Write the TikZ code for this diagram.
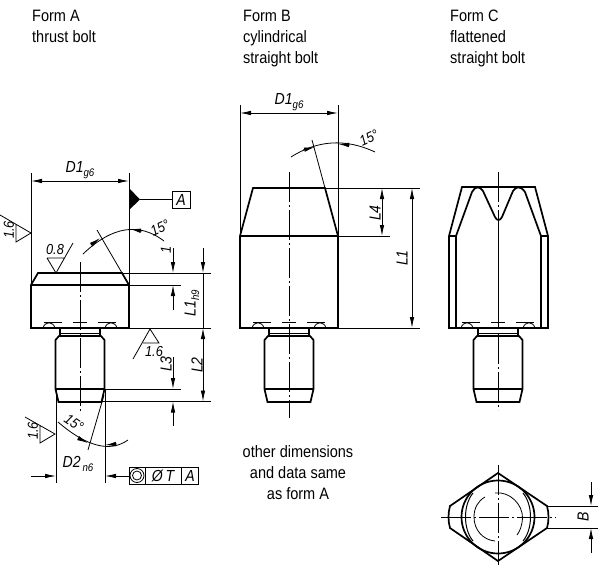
\documentclass[tikz,border=0pt]{standalone}
\usepackage{fontspec}
\setmainfont{Liberation Sans}[FakeStretch=0.88]
\usetikzlibrary{arrows.meta}
\newcommand{\subtxt}[1]{\raisebox{-3.5pt}{\fontsize{11}{11}\selectfont #1}}
\tikzset{
    x=1pt,
    y=-1pt,
    every node/.style={
        inner sep=0pt,
    },
    heading/.style={        % form titles and the note
        font=\fontsize{16.5}{21}\selectfont,
        align=left,
        anchor=north west
    },
    dimlabel/.style={       % dimension texts
        font=\itshape\fontsize{16}{16}\selectfont
    },
    smalllabel/.style={     % roughness and angle texts
        font=\itshape\fontsize{14.5}{14.5}\selectfont
    },
    outline/.style={
        line width=1.7pt,
        line join=miter
    },
    thinline/.style={
        line width=0.8pt
    },
    centerline/.style={
        line width=0.8pt,
        dash pattern=on 30pt off 3pt on 2pt off 3pt
    },
    dimline/.style={
        line width=0.8pt,
        {Latex[length=11pt,width=4.5pt]}-{Latex[length=11pt,width=4.5pt]}
    },
    dimend/.style={         % dimension line with one tip only
        line width=0.8pt,
        -{Latex[length=11pt,width=4.5pt]}
    }
}
\begin{document}
\begin{tikzpicture}
    \useasboundingbox (0,0) rectangle (600,570);
    % titles
    \node[heading] (formA) at (32,9.5) {Form A\\thrust bolt};
    \node[heading] (formB) at (243,9.5) {Form B\\cylindrical\\straight bolt};
    \node[heading] (formC) at (450,9.5) {Form C\\flattened\\straight bolt};
    \node[heading, align=center, anchor=north] (note) at (298,445.5) {other dimensions\\and data same\\as form A};
    % bolt and recesses are the same on all three forms
    \foreach \cx in {80,289,498} {
        \begin{scope}[xshift=\cx pt]
            \draw[outline] (-20,328) -- (-20,336) (20,328) -- (20,336);
            \draw[thinline] (-20,333) -- (20,333);
            \draw[outline] (-24.5,340) -- (-21,336) -- (21,336) -- (24.5,340) -- (24.5,389) -- (21.5,402) -- (-21.5,402) -- (-24.5,389) -- cycle;
            \draw[outline] (-24.5,389) -- (24.5,389);
            \draw[thinline] (-37,328) .. controls (-35,321) and (-27,321) .. (-25,328);
            \draw[thinline] (37,328) .. controls (35,321) and (27,321) .. (25,328);
            \draw[thinline] (-36,322) -- (-18,322) (-7,322) -- (7,322) (18,322) -- (36,322);
        \end{scope}
    }
    % form A
    \draw[outline] (31,328) -- (31,285) -- (38,273) -- (122,273) -- (129,285) -- (129,328) -- cycle;
    \draw[outline] (31,285) -- (129,285);
    \draw[centerline] (80,262) -- (80,413);
    \draw[thinline] (31,173) -- (31,285) (129,173) -- (129,285);
    \draw[dimline] (31,181) -- (129,181);
    \node[dimlabel] (d1a) at (80,170) {D1\subtxt{g6}};
    \fill (129,188) -- (140,199.5) -- (129,210) -- cycle;
    \draw[thinline] (140,199.5) -- (172,199.5);
    \node[draw, thinline, dimlabel, minimum width=18pt, minimum height=17pt] (datumA) at (181,199.5) {A};
    % roughness marks
    \draw[thinline] (0,215) -- (31,233) -- (16,242) -- (16,224);
    \node[smalllabel, rotate=90] (r16a) at (9,230) {1.6};
    \draw[thinline] (47,258) -- (56,273) -- (73,243) (47,258) -- (65,258);
    \node[smalllabel] (r08) at (55,250) {0.8};
    \draw[thinline] (133,359) -- (150,329) -- (159,343) -- (143,343);
    \node[smalllabel] (r16b) at (154,352) {1.6};
    \draw[thinline] (25,417) -- (55,434) -- (40,443) -- (40,425);
    \node[smalllabel, rotate=90] (r16c) at (33,431) {1.6};
    % angle top
    \draw[thinline] (97,230) -- (129,285);
    \draw[thinline] (83,254) .. controls (112,226.3) and (139,222) .. (164,241);
    \draw[dimend] (91,245) -- (100,238);
    \draw[dimend] (142,231) -- (130,229);
    \node[smalllabel, rotate=25] (ang1) at (160,228) {15°};
    % heights
    \draw[thinline] (122,273) -- (211,273) (129,285) -- (181,285) (129,328) -- (211,328);
    \draw[thinline] (105,389) -- (181,389) (102,401.5) -- (211,401.5);
    \draw[dimend] (173,248) -- (173,273);
    \draw[dimend] (173,310) -- (173,285);
    \node[smalllabel, rotate=90] (h1) at (166,250) {1};
    \draw[dimend] (203,248) -- (203,273);
    \draw[thinline] (203,273) -- (203,328);
    \draw[dimline] (203,328) -- (203,401.5);
    \node[dimlabel, rotate=90] (l1a) at (192,303) {L1\subtxt{h9}};
    \node[dimlabel, rotate=90] (l2) at (197,365) {L2};
    \draw[dimend] (173,357) -- (173,389);
    \draw[dimend] (173,426) -- (173,401.5);
    \node[dimlabel, rotate=90] (l3) at (166,364) {L3};
    % angle bottom
    \draw[thinline] (104,395) -- (88,450);
    \draw[thinline] (58,422) .. controls (86.7,446.7) and (110,452.7) .. (128,440);
    \draw[dimend] (78,438) -- (88,443);
    \draw[dimend] (117,444) -- (105,445);
    \node[smalllabel, rotate=-35] (ang2) at (74,423) {15°};
    % D2 and tolerance frame
    \draw[thinline] (56,389) -- (56,483) (105,389) -- (105,483);
    \draw[dimend] (31,476) -- (56,476);
    \draw[dimend] (129,476) -- (105,476);
    \node[dimlabel] (d2) at (78,464) {D2\subtxt{\,n6}};
    \draw[thinline] (129,467) rectangle (198,484) (145,467) -- (145,484) (181,467) -- (181,484);
    \draw[thinline] (137,475.5) circle (7) (137,475.5) circle (4.5);
    \node[dimlabel] (tol) at (163,475.5) {Ø\,T};
    \node[dimlabel] (datumT) at (190,475.5) {A};
    % form B
    \draw[outline] (240,328) -- (240,236) -- (253,188) -- (325,188) -- (338,236) -- (338,328) -- cycle;
    \draw[outline] (240,236) -- (338,236);
    \draw[centerline] (289,172) -- (289,418);
    \draw[thinline] (240,105) -- (240,236) (338,105) -- (338,236);
    \draw[dimline] (240,113) -- (338,113);
    \node[dimlabel] (d1b) at (289,102) {D1\subtxt{g6}};
    \draw[thinline] (312,140) -- (325,188);
    \draw[thinline] (291,157) .. controls (317.7,140) and (345.7,138.3) .. (375,152);
    \draw[dimend] (303,150) -- (315,147);
    \draw[dimend] (350,145) -- (338,144);
    \node[smalllabel, rotate=25] (ang3) at (369,138) {15°};
    \draw[thinline] (325,188) -- (420,188) (338,236) -- (390,236) (338,328) -- (420,328);
    \draw[dimline] (382,188) -- (382,236);
    \draw[dimline] (412,188) -- (412,328);
    \node[dimlabel, rotate=90] (l4) at (375,213) {L4};
    \node[dimlabel, rotate=90] (l1b) at (402,258) {L1};
    % form C
    \draw[outline] (449,328) -- (449,236) -- (462,187) -- (535,187) -- (548,236) -- (548,328) -- cycle;
    \draw[outline] (449,236) -- (456,236) -- (456,328) (548,236) -- (541,236) -- (541,328);
    \draw[outline] (456,236) -- (472,192) .. controls (475,186) and (480,186) .. (483,191) -- (495,217) .. controls (497,221) and (500,221) .. (502,217) -- (513,191) .. controls (516,186) and (521,186) .. (525,192) -- (541,236);
    \draw[thinline, line width=1pt] (498.5,220) -- (498.5,328);
    \draw[centerline] (498,172) -- (498,220);
    \draw[centerline] (498,334) -- (498,410);
    % flattened end view
    \draw[outline] (498,473) -- (547,506) .. controls (549,513) and (549,521) .. (547,528) -- (498,561) -- (450,528) .. controls (448,521) and (448,513) .. (450,506) -- cycle;
    \draw[outline] (498,517) circle (36.5);
    \draw[thinline, line width=1pt] (473,493) .. controls (463,505) and (463,529) .. (473,541);
    \draw[thinline, line width=1pt] (523,493) .. controls (533,505) and (533,529) .. (523,541);
    \draw[thinline] (495,493) .. controls (510,491) and (523,505) .. (522.5,518) .. controls (522,526) and (520,531) .. (517,535);
    \draw[thinline] (495,541) .. controls (483,540) and (474,530) .. (474,517) .. controls (474,508) and (478,501) .. (485,497);
    \draw[centerline] (441,517) -- (556,517);
    \draw[centerline] (498,465) -- (498,565);
    \draw[thinline] (547,506) -- (598,506) (547,528) -- (598,528);
    \draw[dimend] (591,482) -- (591,506);
    \draw[dimend] (591,553) -- (591,528);
    \node[dimlabel, rotate=90] (b) at (583,517) {B};
\end{tikzpicture}
\end{document}
